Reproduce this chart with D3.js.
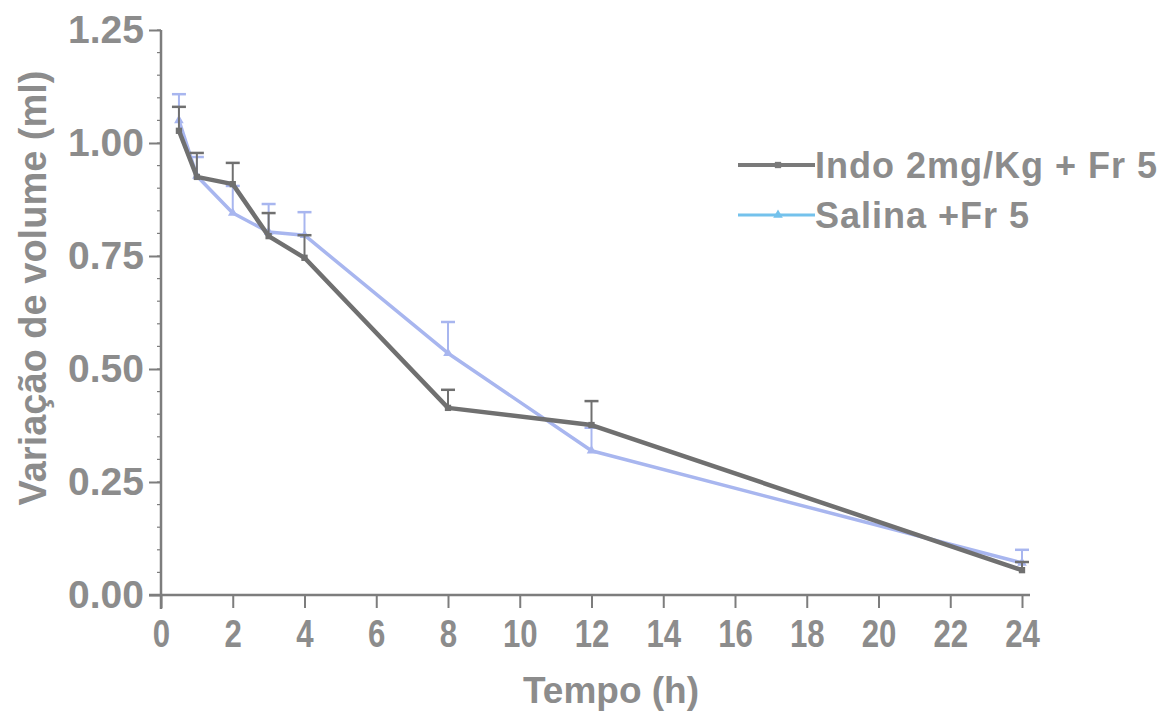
<!DOCTYPE html>
<html>
<head>
<meta charset="utf-8">
<script src="https://cdn.jsdelivr.net/npm/d3@7"></script>
<style>
  html, body { margin: 0; padding: 0; background: #fff; }
  svg { display: block; }
  text { font-family: "Liberation Sans", Arial, sans-serif; font-weight: bold; fill: #8c8c8c; }
</style>
</head>
<body>
<svg id="chart" width="1162" height="712"></svg>
<script>
// Time points (h)
const hours = [0.5, 1, 2, 3, 4, 8, 12, 24];
// Indo 2mg/Kg + Fr 5: mean and upper error
const indoMean = [1.027, 0.925, 0.909, 0.794, 0.746, 0.414, 0.376, 0.055];
const indoErr  = [0.053, 0.053, 0.047, 0.051, 0.050, 0.040, 0.053, 0.018];
// Salina +Fr 5: mean and upper error
const salMean = [1.05, 0.927, 0.845, 0.803, 0.796, 0.535, 0.319, 0.071];
const salErr  = [0.058, 0.042, 0.060, 0.062, 0.051, 0.069, 0.051, 0.029];

const xTicks = [0, 2, 4, 6, 8, 10, 12, 14, 16, 18, 20, 22, 24];
const yTicks = [0, 0.25, 0.5, 0.75, 1.0, 1.25];
const seriesNames = ["Indo 2mg/Kg + Fr 5", "Salina +Fr 5"];

const svg = d3.select("#chart");
const x = d3.scaleLinear().domain([0, 24]).range([161, 1022]);
const y = d3.scaleLinear().domain([0, 1.25]).range([595, 30]);

const axisColor = "#7d7d7d";
const textColor = "#8c8c8c";
const indoColor = "#707070";
const salColor = "#a8b6ef";
const fontFam = "'Liberation Sans', Arial, sans-serif";

// Y axis minor ticks
const yMinor = d3.range(0, 1.2501, 0.05);
svg.append("g").attr("transform", `translate(${x(0)},0)`)
  .selectAll("line").data(yMinor).join("line")
  .attr("x1", -4).attr("x2", 0)
  .attr("y1", d => y(d)).attr("y2", d => y(d))
  .attr("stroke", axisColor).attr("stroke-width", 1.2);

const yAxis = svg.append("g").attr("transform", `translate(${x(0)},0)`)
  .call(d3.axisLeft(y).tickValues(yTicks).tickFormat(d3.format(".2f")).tickSize(12).tickPadding(5));
yAxis.select(".domain").attr("stroke", axisColor).attr("stroke-width", 2.5)
  .attr("d", `M0,${y(1.25)}V${y(0) + 14}`);
yAxis.selectAll(".tick line").attr("stroke", axisColor).attr("stroke-width", 2);
yAxis.selectAll(".tick text").style("font-size", "39px").style("font-weight", "bold")
  .style("font-family", fontFam).attr("fill", textColor);

// X axis
const xAxis = svg.append("g").attr("transform", `translate(0,${y(0)})`)
  .call(d3.axisBottom(x).tickValues(xTicks).tickFormat(d3.format("d")).tickSize(13).tickPadding(11));
xAxis.select(".domain").attr("stroke", axisColor).attr("stroke-width", 2.5)
  .attr("d", `M${x(0) - 12},0H${x(24) + 8}`);
xAxis.selectAll(".tick line").attr("stroke", axisColor).attr("stroke-width", 2);
xAxis.selectAll(".tick text").style("font-size", "39px").style("font-weight", "bold")
  .style("font-family", fontFam).attr("fill", textColor)
  .attr("transform", "scale(0.8,1)");

// Axis titles
svg.append("text").attr("x", 611).attr("y", 703).attr("text-anchor", "middle")
  .style("font-size", "37px").text("Tempo (h)");
svg.append("text").attr("transform", "translate(46,288) rotate(-90)")
  .attr("text-anchor", "middle").style("font-size", "38px").text("Variação de volume (ml)");

function drawSeries(means, errs, color, width, marker) {
  const pts = hours.map((h, i) => ({ h, m: means[i], e: errs[i] }));
  // upper error bars
  const eb = svg.append("g");
  eb.selectAll("line.v").data(pts).join("line")
    .attr("x1", d => x(d.h)).attr("x2", d => x(d.h))
    .attr("y1", d => y(d.m)).attr("y2", d => y(d.m + d.e))
    .attr("stroke", color).attr("stroke-width", 2);
  eb.selectAll("line.c").data(pts).join("line")
    .attr("x1", d => x(d.h) - 7).attr("x2", d => x(d.h) + 7)
    .attr("y1", d => y(d.m + d.e)).attr("y2", d => y(d.m + d.e))
    .attr("stroke", color).attr("stroke-width", 2.5);
  // connecting line
  svg.append("path").datum(pts)
    .attr("d", d3.line().x(d => x(d.h)).y(d => y(d.m)))
    .attr("fill", "none").attr("stroke", color).attr("stroke-width", width)
    .attr("stroke-linejoin", "round");
  // markers
  svg.append("g").selectAll("path").data(pts).join("path")
    .attr("transform", d => `translate(${x(d.h)},${y(d.m)})`)
    .attr("d", d3.symbol().type(marker).size(40))
    .attr("fill", color);
}

drawSeries(salMean, salErr, salColor, 3.5, d3.symbolTriangle);
drawSeries(indoMean, indoErr, indoColor, 4.5, d3.symbolSquare);

// Legend
const legend = svg.append("g");
const legendItems = [
  { name: seriesNames[0], w: 4, marker: d3.symbolSquare, y: 165, lc: "#7a7a7a" },
  { name: seriesNames[1], w: 3, marker: d3.symbolTriangle, y: 215, lc: "#74c2ec" }
];
legendItems.forEach(it => {
  legend.append("line").attr("x1", 738).attr("x2", 815).attr("y1", it.y).attr("y2", it.y)
    .attr("stroke", it.lc).attr("stroke-width", it.w);
  legend.append("path").attr("transform", `translate(778,${it.y})`)
    .attr("d", d3.symbol().type(it.marker).size(40)).attr("fill", it.lc);
  legend.append("text").attr("x", 815).attr("y", it.y + 13)
    .style("font-size", "36px").style("letter-spacing", "1px").text(it.name);
});
</script>
</body>
</html>
